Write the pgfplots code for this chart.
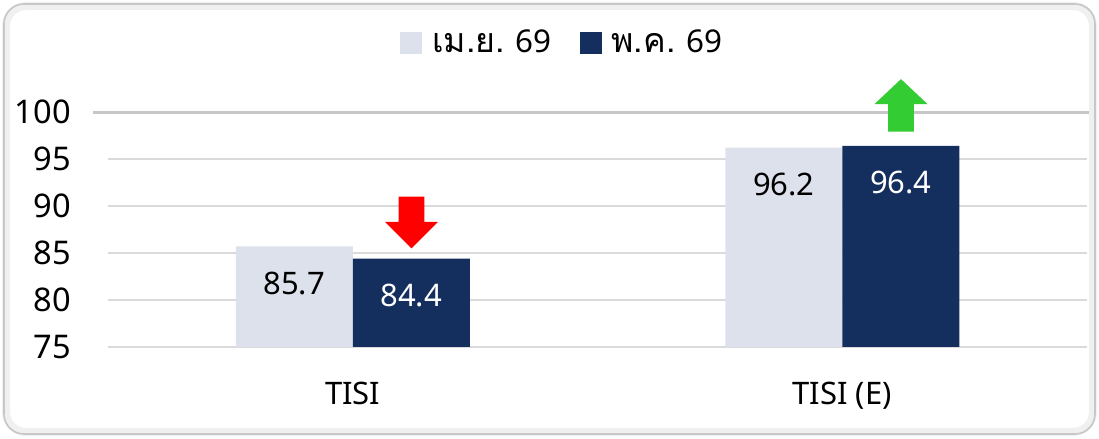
\documentclass[border=0pt]{standalone}
\usepackage{fontspec}
\setmainfont{Noto Sans}
\newfontfamily\thaifont[Script=Thai, Scale=1.08]{Loma}
\usepackage{pgfplots}
\pgfplotsset{compat=1.18}
\definecolor{lightbar}{HTML}{DDE1EC}
\definecolor{darkbar}{HTML}{142E5E}
\definecolor{uparrow}{HTML}{33CC33}
\definecolor{gridc}{HTML}{DADADA}
\begin{document}
\begin{tikzpicture}
\fill[white] (0,0) rectangle (549.5pt,219.5pt);
\draw[line width=4pt, black!6, rounded corners=10pt] (3pt,3.5pt) rectangle (546.5pt,216.5pt);
\draw[line width=0.8pt, black!22, rounded corners=10pt] (2pt,2.5pt) rectangle (547.5pt,217.5pt);
\begin{axis}[
  at={(54pt,46pt)}, anchor=south west,
  scale only axis, width=489.5pt, height=117.5pt,
  ybar=0pt, bar width=58.5pt,
  ymin=75, ymax=100, xmin=-0.5, xmax=1.5,
  xtick=data, xticklabels={TISI, TISI (E)},
  ytick={75,80,85,90,95,100},
  ymajorgrids, grid style={gridc, line width=1pt},
  axis line style={draw=none}, major tick length=0pt,
  clip=false,
  /pgf/number format/assume math mode=true,
  yticklabel style={font=\fontsize{16.3}{19}\selectfont, xshift=-15pt},
  xticklabel style={font=\fontsize{15.5}{18}\selectfont, yshift=-14pt},
  nodes near coords,
  nodes near coords style={/pgf/number format/fixed, /pgf/number format/precision=1},
  every node near coord/.append style={anchor=center, yshift=-18.5pt, font=\fontsize{15.5}{18}\selectfont},
  legend style={draw=none, at={(0.465,1.294)}, anchor=center, legend columns=2,
    font=\fontsize{15.7}{19}\selectfont,
    /tikz/every even column/.append style={column sep=12pt}},
]
\addplot[fill=lightbar, draw=none, every node near coord/.append style={text=black},
  legend image code/.code={\fill[lightbar] (0pt,-5.5pt) rectangle (11pt,5.5pt);}]
  coordinates {(0,85.7) (1,96.2)};
\addplot[fill=darkbar, draw=none, every node near coord/.append style={text=white},
  legend image code/.code={\fill[darkbar] (0pt,-5.5pt) rectangle (11pt,5.5pt);}]
  coordinates {(0,84.4) (1,96.4)};
\legend{\hspace{3pt}{\thaifont เม.ย.} 69, \hspace{3pt}{\thaifont พ.ค.} 69}
\draw[black!22, line width=1.5pt] (axis cs:-0.53,100) -- (axis cs:1.505,100);
\fill[red] (axis cs:0.0935,91.0) -- (axis cs:0.1465,91.0) -- (axis cs:0.1465,88.3) -- (axis cs:0.174,88.3) -- (axis cs:0.12,85.5) -- (axis cs:0.066,88.3) -- (axis cs:0.0935,88.3) -- cycle;
\fill[uparrow] (axis cs:1.0935,97.9) -- (axis cs:1.1465,97.9) -- (axis cs:1.1465,100.85) -- (axis cs:1.174,100.85) -- (axis cs:1.12,103.5) -- (axis cs:1.066,100.85) -- (axis cs:1.0935,100.85) -- cycle;
\end{axis}
\end{tikzpicture}
\end{document}
